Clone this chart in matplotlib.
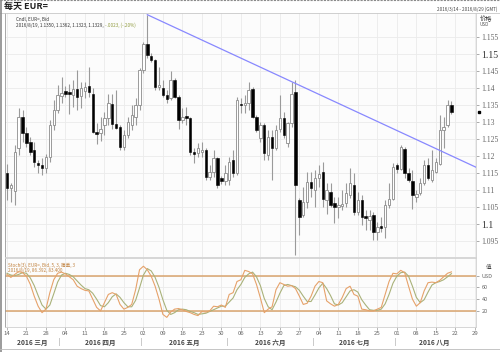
import numpy as np
import pandas as pd
import matplotlib.pyplot as plt
from matplotlib.transforms import blended_transform_factory, offset_copy

plt.rcParams['font.family'] = ['Noto Sans CJK SC', 'DejaVu Sans']

# daily EUR= candles, 2016-03-14 .. 2016-08-19 (weekdays)
dates = pd.bdate_range('2016-03-14', '2016-08-19')

opens = [1.1149, 1.1105, 1.1098, 1.1223, 1.1316, 1.1267, 1.1242, 1.1218, 1.1180, 1.1173,
         1.1164, 1.1198, 1.1291, 1.1336, 1.1378, 1.1391, 1.1389, 1.1379, 1.1396, 1.1377,
         1.1392, 1.1406, 1.1384, 1.1272, 1.1268, 1.1291, 1.1311, 1.1352, 1.1293, 1.1286,
         1.1227, 1.1261, 1.1291, 1.1316, 1.1350, 1.1453, 1.1531, 1.1494, 1.1482, 1.1402,
         1.1399, 1.1379, 1.1370, 1.1424, 1.1375, 1.1306, 1.1318, 1.1311, 1.1213, 1.1208,
         1.1212, 1.1218, 1.1139, 1.1154, 1.1193, 1.1134, 1.1126, 1.1129, 1.1188, 1.1149,
         1.1352, 1.1350, 1.1355, 1.1396, 1.1314, 1.1252, 1.1291, 1.1203, 1.1257, 1.1223,
         1.1281, 1.1311, 1.1237, 1.1296, 1.1389, 1.1071, 1.1026, 1.1065, 1.1125, 1.1100,
         1.1134, 1.1152, 1.1071, 1.1095, 1.1061, 1.1051, 1.1054, 1.1061, 1.1085, 1.1115,
         1.1036, 1.1071, 1.1023, 1.1012, 1.1027, 1.0977, 1.0994, 1.0992, 1.1056, 1.1075,
         1.1174, 1.1162, 1.1222, 1.1149, 1.1127, 1.1080, 1.1090, 1.1120, 1.1174, 1.1129,
         1.1154, 1.1178, 1.1276, 1.1291, 1.1350]
highs = [1.1178, 1.1120, 1.1232, 1.1340, 1.1335, 1.1286, 1.1257, 1.1242, 1.1188, 1.1193,
         1.1207, 1.1306, 1.1365, 1.1409, 1.1433, 1.1405, 1.1413, 1.1424, 1.1453, 1.1419,
         1.1419, 1.1463, 1.1399, 1.1297, 1.1316, 1.1330, 1.1384, 1.1384, 1.1394, 1.1291,
         1.1276, 1.1316, 1.1350, 1.1370, 1.1458, 1.1536, 1.1616, 1.1502, 1.1487, 1.1462,
         1.1424, 1.1394, 1.1449, 1.1429, 1.1380, 1.1340, 1.1345, 1.1316, 1.1223, 1.1237,
         1.1242, 1.1223, 1.1174, 1.1218, 1.1198, 1.1140, 1.1174, 1.1198, 1.1218, 1.1374,
         1.1372, 1.1379, 1.1419, 1.1404, 1.1321, 1.1301, 1.1296, 1.1276, 1.1276, 1.1291,
         1.1379, 1.1330, 1.1301, 1.1419, 1.1423, 1.1076, 1.1110, 1.1154, 1.1154, 1.1159,
         1.1174, 1.1183, 1.1120, 1.1120, 1.1080, 1.1080, 1.1100, 1.1120, 1.1164, 1.1149,
         1.1095, 1.1085, 1.1042, 1.1041, 1.1036, 1.1007, 1.1022, 1.1071, 1.1120, 1.1179,
         1.1179, 1.1232, 1.1227, 1.1164, 1.1159, 1.1100, 1.1134, 1.1188, 1.1193, 1.1218,
         1.1193, 1.1320, 1.1316, 1.1365, 1.1362]
lows = [1.1070, 1.1065, 1.1056, 1.1203, 1.1242, 1.1227, 1.1203, 1.1169, 1.1149, 1.1144,
        1.1149, 1.1183, 1.1277, 1.1326, 1.1355, 1.1374, 1.1324, 1.1345, 1.1335, 1.1340,
        1.1370, 1.1375, 1.1267, 1.1235, 1.1244, 1.1262, 1.1291, 1.1281, 1.1281, 1.1218,
        1.1218, 1.1252, 1.1276, 1.1291, 1.1335, 1.1443, 1.1488, 1.1478, 1.1394, 1.1394,
        1.1374, 1.1355, 1.1365, 1.1370, 1.1281, 1.1296, 1.1291, 1.1203, 1.1179, 1.1198,
        1.1198, 1.1129, 1.1129, 1.1139, 1.1105, 1.1118, 1.1115, 1.1115, 1.1139, 1.1144,
        1.1326, 1.1326, 1.1335, 1.1311, 1.1271, 1.1242, 1.1188, 1.1188, 1.1129, 1.1218,
        1.1271, 1.1252, 1.1228, 1.1286, 1.0909, 1.0968, 1.1022, 1.1046, 1.1080, 1.1051,
        1.1110, 1.1051, 1.1031, 1.1051, 1.1002, 1.1017, 1.1041, 1.1051, 1.1076, 1.1026,
        1.1026, 1.0997, 1.0983, 1.0983, 1.0953, 1.0953, 1.0977, 1.0958, 1.1046, 1.1071,
        1.1149, 1.1159, 1.1134, 1.1124, 1.1043, 1.1066, 1.1085, 1.1115, 1.1129, 1.1125,
        1.1149, 1.1173, 1.1225, 1.1286, 1.1323]
closes = [1.1105, 1.1114, 1.1213, 1.1316, 1.1267, 1.1239, 1.1213, 1.1183, 1.1173, 1.1164,
          1.1198, 1.1291, 1.1336, 1.1379, 1.1387, 1.1384, 1.1382, 1.1396, 1.1373, 1.1399,
          1.1402, 1.1389, 1.1272, 1.1265, 1.1281, 1.1311, 1.1355, 1.1293, 1.1284, 1.1227,
          1.1261, 1.1301, 1.1321, 1.1350, 1.1453, 1.1531, 1.1497, 1.1484, 1.1404, 1.1410,
          1.1379, 1.1367, 1.1424, 1.1375, 1.1306, 1.1314, 1.1311, 1.1213, 1.1206, 1.1223,
          1.1218, 1.1139, 1.1154, 1.1193, 1.1115, 1.1128, 1.1150, 1.1183, 1.1149, 1.1365,
          1.1349, 1.1357, 1.1394, 1.1314, 1.1276, 1.1291, 1.1208, 1.1257, 1.1223, 1.1276,
          1.1311, 1.1262, 1.1296, 1.1384, 1.1115, 1.1022, 1.1066, 1.1125, 1.1105, 1.1134,
          1.1148, 1.1075, 1.1100, 1.1056, 1.1051, 1.1055, 1.1058, 1.1090, 1.1120, 1.1036,
          1.1071, 1.1022, 1.1018, 1.1023, 1.0977, 1.0992, 1.0987, 1.1056, 1.1075, 1.1169,
          1.1161, 1.1227, 1.1149, 1.1129, 1.1085, 1.1088, 1.1120, 1.1174, 1.1134, 1.1159,
          1.1183, 1.1276, 1.1286, 1.1350, 1.1329]

# Stoch(5,3,3)
stoch_k = [82, 77, 82, 87, 85, 79, 65, 45, 28, 17, 23, 51, 73, 84, 86, 83, 78, 73, 62, 58,
           55, 54, 40, 26, 20, 34, 48, 51, 48, 31, 23, 26, 31, 56, 90, 96, 90, 79, 62, 40,
           14, 9, 18, 23, 24, 22, 19, 17, 14, 12, 19, 18, 20, 28, 27, 30, 26, 48, 51, 70,
           73, 89, 87, 83, 65, 42, 17, 23, 27, 56, 68, 65, 62, 63, 58, 45, 31, 33, 45, 62,
           70, 68, 37, 32, 28, 31, 43, 58, 62, 48, 45, 23, 22, 20, 20, 23, 26, 48, 70, 84,
           83, 89, 85, 62, 40, 28, 34, 54, 68, 69, 68, 72, 78, 84, 86.4]
stoch_d = [84, 81, 80, 82, 85, 84, 76, 63, 46, 30, 23, 30, 49, 69, 81, 84, 82, 78, 71, 64,
           58, 56, 50, 40, 29, 27, 34, 44, 49, 43, 34, 27, 27, 38, 59, 81, 92, 88, 77, 60,
           39, 21, 14, 17, 22, 23, 22, 19, 17, 14, 15, 16, 19, 22, 25, 28, 28, 35, 42, 56,
           65, 77, 83, 86, 78, 63, 41, 27, 22, 35, 50, 63, 65, 63, 61, 55, 45, 36, 36, 47,
           59, 67, 58, 46, 32, 30, 34, 44, 54, 56, 52, 39, 30, 22, 21, 21, 23, 32, 48, 67,
           79, 85, 86, 79, 62, 43, 34, 39, 52, 64, 68, 70, 73, 78, 83.4]

week_labels = ['14', '21', '28', '04', '11', '18', '25', '02', '09', '16', '23', '30', '06',
               '13', '20', '27', '04', '11', '18', '25', '01', '08', '15', '22', '29']
month_labels = ['2016 三月', '2016 四月', '2016 五月', '2016 六月', '2016 七月', '2016 八月']

opens, highs, lows, closes = map(np.array, (opens, highs, lows, closes))
idx = np.arange(len(dates))
up = closes >= opens

fig = plt.figure(figsize=(5, 3.52), dpi=100)
W, H = 500.0, 352.0
ax = fig.add_axes([5 / W, 1 - 257 / H, 471 / W, 244 / H])
ax2 = fig.add_axes([5 / W, 1 - 327 / H, 471 / W, 69 / H])

xmin, xmax = -0.5, 120.3
grid_c = '#ebebeb'

# ---------------- price panel ----------------
ax.set_facecolor('#fcfcfc')
ax.vlines(idx, lows, highs, color='#9a9a9a', lw=0.8, zorder=2)
body_lo = np.minimum(opens, closes)
body_h = np.maximum(np.abs(closes - opens), 0.00012)
ax.bar(idx[up], body_h[up], bottom=body_lo[up], width=0.62, color='white',
       edgecolor='#8c8c8c', lw=0.6, zorder=3)
ax.bar(idx[~up], body_h[~up], bottom=body_lo[~up], width=0.62, color='black',
       edgecolor='black', lw=0.4, zorder=3)

# trend line from May 3 high through Jun 23 high
i0, i1 = 36, 73
slope = (highs[i1] - highs[i0]) / (i1 - i0)
tx = np.array([i0, xmax])
ax.plot(tx, highs[i0] + slope * (tx - i0), color='#8888ff', lw=0.9, zorder=4)

ax.set_xlim(xmin, xmax)
ax.set_ylim(1.0903, 1.1621)
yt = np.round(np.arange(1.095, 1.1551, 0.005), 3)
ax.set_yticks(yt)
ax.set_yticklabels([('%.3f' % v).rstrip('0') for v in yt])
ax.yaxis.tick_right()
ax.tick_params(axis='y', length=2, width=0.5, color='#888', pad=2, labelsize=5.5,
               labelcolor='#666')
for lab in ax.get_yticklabels():
    lab.set_family(['Liberation Serif'])
    if lab.get_text() in ('1.15', '1.1'):
        lab.set_fontsize(7)
        lab.set_color('#333')
mondays = np.arange(0, 121, 5)
ax.set_xticks(mondays)
ax.tick_params(axis='x', length=0, labelbottom=False)
ax.grid(True, color=grid_c, lw=0.6, zorder=0)
for s in ax.spines.values():
    s.set_color('#d0d0d0')
    s.set_linewidth(0.6)
ax.spines['left'].set_color('#999')
ax.spines['top'].set_visible(False)

# last-close marker on the price scale
tr = blended_transform_factory(ax.transAxes, ax.transData)
ax.plot([1.006], [closes[-1]], 's', ms=1.6, color='black', transform=tr, clip_on=False)

ax.text(11 / 471, 0.985, 'Cndl, EUR=, Bid', transform=ax.transAxes, fontsize=3.3,
        color='#333', va='top')
t1 = ax.text(11 / 471, 0.96, '2016/8/19, 1.1350, 1.1362, 1.1323, 1.1329, ',
             transform=ax.transAxes, fontsize=3.3, color='#333', va='top')
fig.canvas.draw()
bb = t1.get_window_extent()
ax.text(bb.x1, bb.y1, '-.0023, (-.20%)', transform=None, fontsize=3.3,
        color='#8f9a3c', va='top')

# ---------------- stochastic panel ----------------
ax2.set_facecolor('#fcfcfc')
ax2.axhline(80, color='#d9a46e', lw=1.1, zorder=2)
ax2.axhline(20, color='#d9a46e', lw=1.1, zorder=2)
ax2.plot(idx, stoch_d, color='#a9b27a', lw=0.8, zorder=3)
ax2.plot(idx, stoch_k, color='#e6a26a', lw=0.8, zorder=4)
ax2.set_xlim(xmin, xmax)
ax2.set_ylim(-7.4, 110)
ax2.set_yticks([20, 40, 60, 80])
ax2.set_yticklabels(['20', '40', '60', 'USD'])
ax2.yaxis.tick_right()
ax2.tick_params(axis='y', length=2, width=0.5, color='#888', pad=2, labelsize=4,
                labelcolor='#666')
ax2.grid(True, color=grid_c, lw=0.6, zorder=0)
ax2.set_xticks(mondays)
ax2.set_xticklabels(week_labels)
ax2.tick_params(axis='x', length=2.5, width=0.5, color='#999', pad=0.5, labelsize=4.3,
                labelcolor='#666')
for s in ax2.spines.values():
    s.set_color('#d0d0d0')
    s.set_linewidth(0.6)
ax2.spines['left'].set_color('#999')

ax2.text(0.007, 0.93, 'Stoch(3), EUR=, Bid, 5, 3, 简单, 3', transform=ax2.transAxes,
         fontsize=3.3, color='#c0803c', va='top')
ax2.text(0.007, 0.85, '2016/8/19, 86.392, 83.400', transform=ax2.transAxes,
         fontsize=3.3, color='#c0803c', va='top')
ax2.text(1.02, 0.86, '值', transform=ax2.transAxes, fontsize=4, color='#444',
         va='center', ha='left')

# month labels and separators
month_start = [0, 14, 35, 57, 79, 100]
month_end = [14, 35, 57, 79, 100, 120]
trm = blended_transform_factory(ax2.transData, fig.transFigure)
for a, b, lab in zip(month_start, month_end, month_labels):
    ax2.text((a + b) / 2 - 0.5, 1 - 342 / H, lab, transform=trm, fontsize=4.8,
             color='#444', ha='center', va='center', fontweight='bold')
for a in month_start[1:]:
    ax2.text(a - 0.5, 1 - 342 / H, '|', transform=trm, fontsize=4.5, color='#777',
             ha='center', va='center')

# ---------------- header / frame ----------------
fig.text(4 / W, 1 - 6.5 / H, '每天 EUR=', fontsize=6.5, color='#222', va='center',
         fontweight='bold')
fig.text(497 / W, 1 - 9 / H, '2016/3/14 - 2016/8/29 (GMT)', fontsize=3.3, color='#444',
         ha='right', va='center')
fig.text(480 / W, 1 - 19.5 / H, '价格', fontsize=4.5, color='#333', va='center')
fig.text(480 / W, 1 - 25 / H, 'USD', fontsize=3.3, color='#555', va='center')
fig.add_artist(plt.Line2D([0, 1], [1 - 13 / H, 1 - 13 / H], color='#c8c8c8', lw=0.6))
fig.add_artist(plt.Line2D([0.002, 0.002], [0, 1], color='#8a8a8a', lw=1.2))
fig.add_artist(plt.Line2D([0, 1], [0.999, 0.999], color='#8a8a8a', lw=0.8, ls=(0, (2, 1))))
fig.add_artist(plt.Line2D([0, 1], [1 - 349 / H, 1 - 349 / H], color='#bbbbbb', lw=0.6))

fig.savefig('out.png', dpi=100)
